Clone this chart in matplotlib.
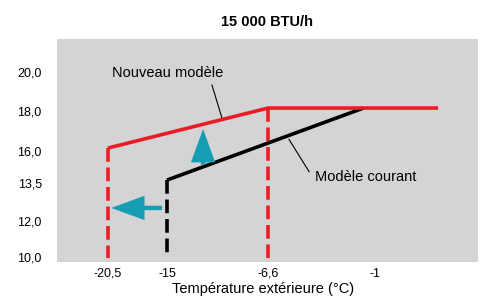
import numpy as np
import matplotlib
matplotlib.use("Agg")
import matplotlib.pyplot as plt
from matplotlib.patches import FancyArrowPatch
from matplotlib.transforms import ScaledTranslation

plt.rcParams['font.family'] = ['Liberation Sans', 'DejaVu Sans']

# --- data ---
x_ticks = [-20.5, -15, -6.6, -1]
x_tick_labels = ["-20,5", "-15", "-6,6", "-1"]
y_ticks = [10.0, 12.0, 13.5, 16.0, 18.0, 20.0]
y_tick_labels = ["10,0", "12,0", "13,5", "16,0", "18,0", "20,0"]

new_temp = [-20.5, -6.6, 2.3]
new_cap = [16.0, 18.0, 18.0]
cur_temp = [-15.0, -1.6]
cur_cap = [13.5, 18.0]
floor_cap = 9.8  # where the dashed drops stop

# the original axes are not linear: keep the tick spacing of the picture
x_knots = [-60, -20.5, -15, -6.6, -1, 30]
x_pos = [-315.8, 108, 167, 268, 375, 967]
y_knots = [0, 10, 12, 13.5, 16, 18, 20, 40]
y_pos = [-434, -254, -218, -180, -148, -108, -69, 321]


def fx(v):
    return np.interp(v, x_knots, x_pos)


def fx_inv(v):
    return np.interp(v, x_pos, x_knots)


def fy(v):
    return np.interp(v, y_knots, y_pos)


def fy_inv(v):
    return np.interp(v, y_pos, y_knots)


red = "#ec1c24"
cyan = "#179db3"

fig = plt.figure(figsize=(4.82, 2.98), dpi=100)
ax = fig.add_axes([57 / 482, 36 / 298, 421 / 482, 223 / 298])
ax.set_facecolor("#d4d4d4")
ax.set_xscale("function", functions=(fx, fx_inv))
ax.set_yscale("function", functions=(fy, fy_inv))
ax.set_xlim(-25.25, 4.39)
ax.set_ylim(9.56, 21.54)

# current model (black)
ax.plot(cur_temp, cur_cap, color="black", lw=2.6, solid_capstyle="butt", zorder=2)
ax.plot([cur_temp[0], cur_temp[0]], [cur_cap[0], floor_cap], color="black", lw=2.6,
        dashes=(3.8, 1.6), zorder=2)

# new model (red)
ax.plot(new_temp, new_cap, color=red, lw=2.6, solid_capstyle="butt", zorder=3)
ax.plot([new_temp[0], new_temp[0]], [new_cap[0], floor_cap], color=red, lw=2.6,
        dashes=(3.8, 1.6), zorder=3)
ax.plot([new_temp[1], new_temp[1]], [new_cap[1], floor_cap], color=red, lw=2.6,
        dashes=(3.8, 1.6), zorder=3)

# arrows
head = "simple,head_length=2.4,head_width=1.75,tail_width=0.32"
ax.add_patch(FancyArrowPatch((-15.47, 12.4), (-20.2, 12.4), arrowstyle=head,
                             mutation_scale=10, color=cyan, lw=0,
                             shrinkA=0, shrinkB=0, zorder=4))
ax.add_patch(FancyArrowPatch((-12.0, 14.7), (-12.0, 16.95), arrowstyle=head,
                             mutation_scale=10, color=cyan, lw=0,
                             shrinkA=0, shrinkB=0, zorder=4))

# labels with leader lines
ax.text(-20.13, 19.8, "Nouveau modèle", fontsize=10.5, va="center", ha="left")
ax.plot([-11.26, -10.43], [19.18, 17.5], color="black", lw=0.8)
ax.text(-4.14, 13.76, "Modèle courant", fontsize=10.5, va="center", ha="left")
ax.plot([-5.5, -4.45], [16.43, 14.15], color="black", lw=0.8)

ax.set_xticks(x_ticks, x_tick_labels)
ax.set_yticks(y_ticks, y_tick_labels)
ax.minorticks_off()
ax.tick_params(length=0, labelsize=9, colors="black")
ax.tick_params(axis="y", pad=11)
ax.tick_params(axis="x", pad=4)
for lab in ax.get_yticklabels():
    lab.set_transform(lab.get_transform() + ScaledTranslation(0, -3 / 100, fig.dpi_scale_trans))
for s in ax.spines.values():
    s.set_visible(False)

fig.text(267 / 482, 1 - 22 / 298, "15 000 BTU/h", fontsize=10.5, fontweight="bold",
         ha="center", va="center")
fig.text(263 / 482, 1 - 289 / 298, "Température extérieure (°C)", fontsize=10.5,
         ha="center", va="center")

fig.savefig("out.png", dpi=100)
